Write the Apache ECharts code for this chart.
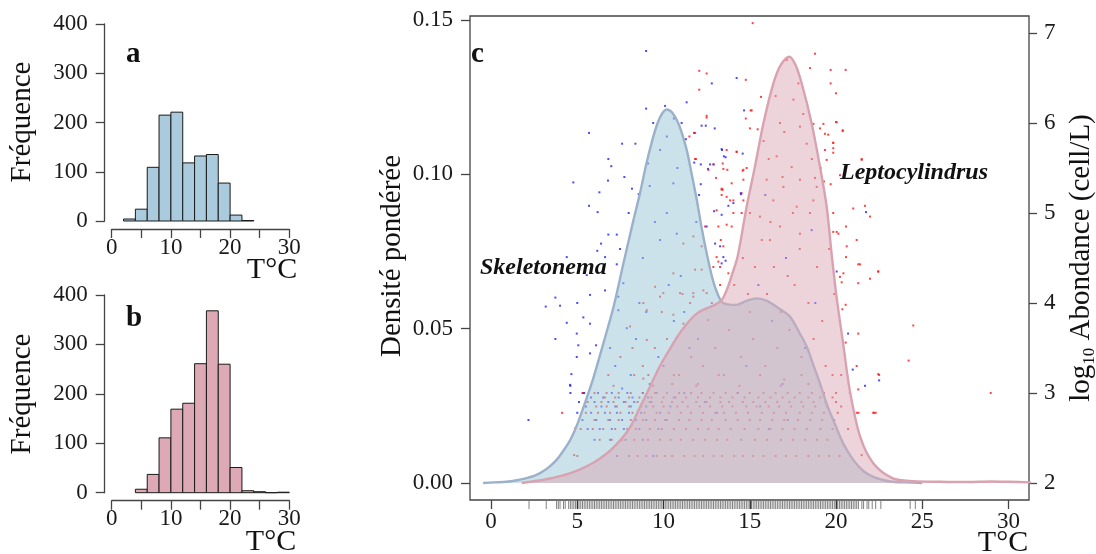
<!DOCTYPE html>
<html><head><meta charset="utf-8">
<script src="https://cdn.jsdelivr.net/npm/echarts@6/dist/echarts.min.js"></script>
<style>html,body{margin:0;padding:0;background:#fff}#c{width:1096px;height:554px}</style>
</head><body><div id="c"></div>
<script>
// ---------- data ----------
const binEdgesA = [2,4,6,8,10,12,14,16,18,20,22,24];
const countsA   = [4,24,109,215,221,118,132,135,77,12,1];
const binEdgesB = [4,6,8,10,12,14,16,18,20,22,24,26,28,30];
const countsB   = [7,37,111,169,181,261,368,260,51,4,2,0,1];
const histTickValues  = [0,5,10,15,20,25,30];
const histLabelValues = [0,10,20,30];
const freqTicks   = [0,100,200,300,400];
const densTicks   = [0,0.05,0.10,0.15];
const abundTicks  = [2,3,4,5,6,7];
const tempTicks   = [0,5,10,15,20,25,30];

const skeletonemaDensity = [[-0.46,0],[0.2,0.0002],[0.9,0.0004],[1.5,0.0009],[2.0,0.0015],[2.5,0.0023],[2.84,0.0032],[3.3,0.0049],[3.8,0.0075],[4.2,0.0105],[4.6,0.014],[5.0,0.019],[5.45,0.026],[5.93,0.034],[6.5,0.045],[7.1,0.057],[7.67,0.071],[8.25,0.085],[8.64,0.094],[9.03,0.104],[9.5,0.114],[9.85,0.119],[10.18,0.121],[10.5,0.120],[10.9,0.116],[11.34,0.108],[11.6,0.101],[11.92,0.092],[12.2,0.083],[12.5,0.0745],[12.9,0.065],[13.37,0.0587],[13.8,0.0578],[14.24,0.0577],[14.8,0.0590],[15.4,0.0598],[16.0,0.0590],[16.7,0.0565],[17.33,0.0539],[17.8,0.0495],[18.3,0.0442],[18.7,0.038],[19.07,0.0323],[19.5,0.025],[19.84,0.0204],[20.4,0.013],[21.0,0.0075],[21.6,0.0038],[22.16,0.002],[22.8,0.0009],[23.3,0.0004],[24.0,0.0002],[25.0,0]];

const leptocylindrusDensity = [[1.78,0],[2.5,0.0006],[3.0,0.001],[4.0,0.0022],[5.0,0.004],[6.0,0.0068],[7.0,0.011],[8.0,0.0175],[8.64,0.0246],[9.2,0.031],[9.8,0.038],[10.57,0.0453],[11.0,0.049],[11.54,0.0528],[12.0,0.0552],[12.5,0.0566],[13.0,0.0578],[13.37,0.0592],[13.7,0.063],[14.0,0.068],[14.3,0.0735],[14.82,0.0895],[15.3,0.1025],[15.79,0.1165],[16.37,0.1295],[16.8,0.1355],[17.29,0.1381],[17.65,0.1355],[18.01,0.1295],[18.59,0.1165],[19.07,0.1025],[19.46,0.0895],[19.75,0.074],[20.04,0.060],[20.42,0.045],[20.8,0.030],[21.4,0.015],[22.16,0.0064],[23.3,0.0015],[24.5,0.0006],[26.0,0.0004],[27.5,0.0003],[29.0,0.0005],[30.0,0.0004],[31.3,0.0002]];

// Skeletonema samples: [T, log10 abundance]
const skeletonemaPoints = [[8.99,6.8],[12.8,6.44],[14.24,6.5],[11.34,6.23],[8.99,6.16],[10.09,6.19],[5.68,5.89],[7.6,5.77],[8.37,5.77],[11.05,6.0],[11.77,5.89],[12.45,5.97],[12.97,5.94],[11.3,5.82],[6.8,5.6],[6.97,5.52],[4.77,5.34],[6.78,5.36],[7.73,5.4],[8.17,5.27],[6.28,5.23],[8.56,5.21],[5.68,5.08],[6.18,5.01],[7.98,5.0],[6.8,4.76],[7.29,4.76],[6.38,4.66],[6.16,4.58],[7.48,4.6],[7.29,4.43],[13.37,5.71],[13.6,5.62],[14.59,5.66],[12.16,5.54],[12.9,5.54],[11.78,5.56],[12.58,5.49],[12.16,5.32],[12.93,5.02],[13.76,5.08],[13.37,4.98],[14.05,5.11],[14.48,5.22],[14.67,6.14],[12.5,4.85],[12.06,5.2],[12.99,4.66],[13.28,4.63],[13.47,4.51],[13.6,4.47],[10.19,5.85],[9.8,5.7],[10.57,5.33],[10.19,5.0],[9.8,4.7],[10.77,4.77],[4.39,4.51],[6.61,4.14],[3.73,4.06],[3.17,3.96],[4.0,3.97],[5.0,4.0],[5.74,4.09],[5.35,3.84],[5.74,3.77],[4.39,3.78],[4.97,3.66],[3.73,3.6],[5.06,3.53],[6.09,3.53],[5.74,3.44],[4.97,3.4],[4.66,3.21],[4.58,3.09],[5.35,3.0],[7.38,3.92],[7.87,3.72],[5.55,4.31],[7.67,4.22],[7.38,4.07],[6.61,4.51],[2.17,2.7],[4.6,3.08],[21.68,3.08],[22.5,3.14],[20.7,3.66],[20.97,3.26],[20.04,4.35],[13.37,4.44],[12.21,5.97],[13.39,5.7],[13.5,5.63],[12.7,5.54],[14.49,5.21],[21.74,5.01],[18.59,4.81],[9.2,5.3],[10.8,5.5],[9.5,4.9],[11.0,4.3],[8.8,4.5],[10.3,4.2],[9.0,3.9],[10.6,3.8],[8.4,3.6],[11.5,3.5],[9.7,3.4],[7.2,3.3],[8.1,3.2],[10.0,3.3],[12.0,3.6],[11.2,3.9],[8.6,4.0],[6.9,3.5],[7.6,3.05],[9.2,3.1],[15.5,4.2],[16.3,3.8],[17.1,4.5],[18.2,3.5],[14.8,3.3],[16.9,3.1],[18.8,4.0],[15.9,5.2],[9.4,6.0],[10.6,6.05],[9.1,5.55],[11.9,4.9],[6.5,2.3],[7.3,2.3],[8.0,2.3],[9.4,2.3],[6.0,2.48],[6.9,2.48],[7.8,2.48],[8.8,2.48],[5.6,2.6],[6.3,2.6],[7.0,2.6],[7.7,2.6],[8.6,2.6],[9.7,2.6],[5.3,2.7],[6.1,2.7],[6.9,2.7],[7.6,2.7],[8.4,2.7],[9.0,2.7],[10.1,2.7],[5.0,2.78],[5.8,2.78],[6.6,2.78],[7.3,2.78],[8.0,2.78],[8.7,2.78],[9.8,2.78],[5.5,2.85],[6.4,2.85],[7.2,2.85],[8.1,2.85],[9.0,2.85],[10.4,2.85],[5.1,2.9],[6.0,2.9],[6.8,2.9],[7.7,2.9],[8.3,2.9],[9.3,2.9],[5.8,2.95],[6.5,2.95],[7.4,2.95],[8.2,2.95],[9.1,2.95],[10.6,2.95],[4.6,3.0],[5.4,3.0],[6.2,3.0],[7.0,3.0],[7.9,3.0],[8.8,3.0],[9.6,3.0],[11.2,3.0],[13.1,2.78],[15.6,2.85],[17.2,2.7],[12.4,2.9],[14.3,3.0],[16.1,2.6]];

// Leptocylindrus samples: [T, log10 abundance]
const leptocylindrusPoints = [[15.17,7.11],[18.78,6.77],[18.49,6.61],[19.69,6.59],[20.56,6.59],[19.69,6.44],[20.0,6.33],[15.65,6.29],[14.77,6.48],[12.5,6.55],[12.07,6.58],[12.07,6.37],[15.05,6.14],[14.77,6.05],[15.01,5.94],[12.5,6.06],[19.07,5.94],[20.0,6.01],[20.39,5.92],[19.55,5.87],[19.84,5.78],[19.84,5.72],[19.84,5.67],[19.36,5.7],[19.46,5.59],[19.11,5.5],[18.78,5.39],[19.3,5.35],[19.69,5.32],[19.36,5.18],[19.84,5.0],[20.23,5.42],[21.49,5.59],[21.0,5.05],[21.97,4.96],[20.58,4.85],[21.2,4.7],[20.14,4.77],[19.84,4.79],[15.01,5.0],[14.63,5.14],[13.86,5.14],[13.43,5.26],[13.04,5.39],[14.63,5.48],[14.05,5.0],[13.95,4.85],[13.32,4.7],[17.14,6.7],[17.82,6.44],[17.53,6.26],[16.75,6.0],[17.91,5.96],[18.3,5.77],[16.56,5.63],[17.43,5.51],[17.91,5.37],[15.98,5.37],[16.95,5.29],[16.37,5.14],[17.72,5.07],[18.49,5.0],[15.59,4.96],[16.75,4.85],[17.91,4.77],[16.17,4.7],[18.88,5.29],[18.69,5.14],[15.46,5.93],[11.5,5.85],[11.83,5.89],[11.88,5.6],[13.43,5.55],[13.7,5.48],[14.24,5.68],[13.37,5.27],[13.37,5.2],[13.95,5.33],[14.63,5.37],[14.53,5.22],[20.23,4.29],[21.29,4.22],[21.97,4.27],[22.45,4.35],[21.39,4.43],[20.56,3.98],[20.37,3.93],[21.29,3.66],[20.56,3.56],[21.2,3.3],[22.45,3.21],[21.29,3.04],[21.2,2.78],[22.16,2.78],[20.33,4.23],[11.83,4.37],[12.21,4.37],[12.5,4.11],[11.54,4.0],[11.15,3.77],[10.57,3.87],[9.99,4.11],[9.51,4.18],[9.03,3.59],[9.12,3.2],[8.83,3.16],[12.89,4.4],[13.18,4.46],[13.28,4.2],[13.76,4.33],[11.73,4.07],[12.6,3.81],[12.5,6.08],[11.83,5.6],[12.6,5.48],[12.9,5.54],[13.47,5.49],[13.66,5.7],[14.24,5.68],[14.59,5.47],[14.82,5.5],[15.11,6.14],[13.37,5.26],[13.66,5.18],[14.05,5.14],[14.53,5.0],[13.08,5.03],[13.18,4.85],[13.66,4.87],[13.47,4.63],[13.08,4.51],[13.28,4.4],[12.41,4.85],[12.21,4.63],[11.73,4.74],[11.15,4.66],[10.57,4.33],[10.96,4.11],[11.73,4.11],[12.31,4.14],[9.8,4.07],[8.83,4.0],[9.03,3.92],[8.06,3.74],[18.69,5.99],[19.27,5.99],[20.04,6.01],[20.39,5.91],[19.36,5.88],[19.84,5.78],[21.49,5.6],[21.68,5.08],[22.45,4.35],[21.29,4.43],[20.58,4.51],[20.62,4.63],[20.04,4.79],[20.43,4.33],[4.12,2.78],[4.89,2.61],[4.82,2.31],[28.97,3.0],[21.3,2.78],[22.3,2.78],[24.48,3.75],[24.21,3.36],[22.5,3.2],[22.2,2.78],[21.49,2.31],[8.8,3.3],[9.5,3.5],[10.2,3.6],[10.9,3.2],[11.6,3.4],[12.3,3.3],[13.0,3.5],[13.8,3.7],[14.5,3.4],[15.2,3.6],[15.9,3.3],[16.6,3.5],[17.3,3.7],[18.0,3.4],[18.7,3.6],[19.4,3.3],[9.9,3.9],[11.1,4.1],[12.8,4.0],[14.1,4.2],[15.0,3.9],[16.0,4.1],[16.8,3.9],[17.6,4.2],[18.4,4.0],[19.2,3.8],[19.9,4.1],[14.6,4.5],[15.7,4.7],[16.4,4.4],[17.9,4.6],[18.9,4.4],[19.6,4.6],[13.5,3.2],[10.5,3.1],[12.0,3.1],[17.0,3.15],[18.4,3.1],[19.8,3.2],[8.2,3.5],[7.5,3.4],[6.8,3.2],[16.2,4.9],[17.5,5.0],[15.3,4.4],[16.1,5.6],[17.0,5.9],[18.1,6.1],[16.5,6.3],[15.8,5.8],[18.6,5.6],[17.2,4.3],[14.9,4.1],[16.9,5.4],[5.0,2.3],[8.5,2.3],[9.0,2.3],[9.6,2.3],[10.1,2.3],[10.5,2.3],[11.2,2.3],[11.8,2.3],[12.3,2.3],[12.9,2.3],[13.4,2.3],[14.1,2.3],[14.6,2.3],[15.2,2.3],[15.8,2.3],[16.5,2.3],[17.1,2.3],[17.7,2.3],[18.4,2.3],[19.0,2.3],[19.6,2.3],[20.2,2.3],[6.3,2.48],[7.0,2.48],[7.6,2.48],[8.3,2.48],[9.1,2.48],[9.8,2.48],[10.4,2.48],[11.0,2.48],[11.7,2.48],[12.4,2.48],[13.1,2.48],[13.7,2.48],[14.5,2.48],[15.3,2.48],[16.0,2.48],[16.8,2.48],[17.5,2.48],[18.2,2.48],[18.9,2.48],[19.5,2.48],[5.2,2.6],[5.9,2.6],[6.5,2.6],[7.2,2.6],[7.9,2.6],[8.4,2.6],[9.2,2.6],[9.9,2.6],[10.6,2.6],[11.3,2.6],[12.0,2.6],[12.6,2.6],[13.2,2.6],[13.9,2.6],[14.7,2.6],[15.5,2.6],[16.2,2.6],[16.9,2.6],[17.6,2.6],[18.3,2.6],[19.1,2.6],[19.8,2.6],[20.7,2.6],[6.0,2.7],[6.8,2.7],[7.4,2.7],[8.1,2.7],[8.8,2.7],[9.5,2.7],[10.2,2.7],[10.9,2.7],[11.5,2.7],[12.2,2.7],[12.8,2.7],[13.6,2.7],[14.3,2.7],[15.0,2.7],[15.6,2.7],[16.3,2.7],[17.0,2.7],[17.8,2.7],[18.5,2.7],[19.2,2.7],[19.9,2.7],[5.5,2.78],[6.2,2.78],[6.9,2.78],[7.5,2.78],[8.2,2.78],[8.9,2.78],[9.6,2.78],[10.3,2.78],[11.0,2.78],[11.6,2.78],[12.3,2.78],[13.0,2.78],[13.5,2.78],[14.2,2.78],[14.9,2.78],[15.7,2.78],[16.4,2.78],[17.1,2.78],[17.9,2.78],[18.6,2.78],[19.3,2.78],[20.1,2.78],[6.1,2.85],[6.7,2.85],[7.3,2.85],[8.0,2.85],[8.7,2.85],[9.4,2.85],[10.0,2.85],[10.8,2.85],[11.4,2.85],[12.1,2.85],[12.7,2.85],[13.4,2.85],[14.0,2.85],[14.8,2.85],[15.4,2.85],[16.1,2.85],[16.7,2.85],[17.4,2.85],[18.1,2.85],[18.8,2.85],[19.5,2.85],[20.3,2.85],[5.6,2.9],[6.4,2.9],[7.1,2.9],[7.8,2.9],[8.5,2.9],[9.2,2.9],[9.9,2.9],[10.5,2.9],[11.1,2.9],[11.9,2.9],[12.5,2.9],[13.3,2.9],[13.8,2.9],[14.6,2.9],[15.2,2.9],[15.9,2.9],[16.6,2.9],[17.3,2.9],[18.0,2.9],[18.7,2.9],[19.4,2.9],[20.0,2.9],[6.6,2.95],[7.2,2.95],[8.0,2.95],[8.6,2.95],[9.3,2.95],[10.0,2.95],[10.7,2.95],[11.3,2.95],[12.0,2.95],[12.7,2.95],[13.3,2.95],[14.0,2.95],[14.7,2.95],[15.5,2.95],[16.2,2.95],[16.9,2.95],[17.6,2.95],[18.4,2.95],[19.1,2.95],[19.8,2.95],[5.3,3.0],[6.0,3.0],[6.7,3.0],[7.4,3.0],[8.1,3.0],[8.8,3.0],[9.5,3.0],[10.2,3.0],[10.9,3.0],[11.6,3.0],[12.2,3.0],[12.9,3.0],[13.6,3.0],[14.3,3.0],[15.0,3.0],[15.8,3.0],[16.5,3.0],[17.2,3.0],[17.9,3.0],[18.6,3.0],[19.3,3.0],[20.0,3.0],[20.8,3.0],[7.1,3.08],[9.4,3.08],[11.9,3.08],[14.4,3.08],[16.8,3.08],[19.1,3.08],[8.3,3.2],[10.6,3.2],[13.2,3.2],[15.6,3.2],[18.0,3.2],[20.3,3.2]];

// sampled temperatures (rug)
const rugTemps = [2.2,3.2,3.8,3.9,4.0,4.2,4.3,4.5,4.6,4.7,4.8,4.9,5.0,5.1,5.2,5.3,5.4,5.5,5.6,5.7,5.8,5.9,6.0,6.1,6.2,6.3,6.4,6.5,6.6,6.7,6.8,6.9,7.0,7.1,7.2,7.3,7.4,7.5,7.6,7.7,7.8,7.9,8.0,8.1,8.2,8.3,8.4,8.5,8.6,8.7,8.8,8.9,9.0,9.1,9.2,9.3,9.4,9.5,9.6,9.7,9.8,9.9,10.0,10.1,10.2,10.3,10.4,10.5,10.6,10.7,10.8,10.9,11.0,11.1,11.2,11.3,11.4,11.5,11.6,11.7,11.8,11.9,12.0,12.1,12.2,12.3,12.4,12.5,12.6,12.7,12.8,12.9,13.0,13.1,13.2,13.3,13.4,13.5,13.6,13.7,13.8,13.9,14.0,14.1,14.2,14.3,14.4,14.5,14.6,14.7,14.8,14.9,15.0,15.1,15.2,15.3,15.4,15.5,15.6,15.7,15.8,15.9,16.0,16.1,16.2,16.3,16.4,16.5,16.6,16.7,16.8,16.9,17.0,17.1,17.2,17.3,17.4,17.5,17.6,17.7,17.8,17.9,18.0,18.1,18.2,18.3,18.4,18.5,18.6,18.7,18.8,18.9,19.0,19.1,19.2,19.3,19.4,19.5,19.6,19.7,19.8,19.9,20.0,20.1,20.2,20.3,20.4,20.5,20.6,20.7,20.8,20.9,21.0,21.1,21.2,21.3,21.5,21.6,21.8,21.9,22.1,22.3,22.6,24.3,24.6];

// ---------- chart ----------
const F = '"Liberation Serif", "DejaVu Serif", serif';
const INK = '#1a1a1a';
const AX = '#444';
const chart = echarts.init(document.getElementById('c'), null, {renderer:'canvas'});

function histData(edges, counts){ return counts.map((c,i)=>[edges[i], edges[i+1], c]); }
function histRender(fill){
  return function(params, api){
    const p0 = api.coord([api.value(0), 0]);
    const p1 = api.coord([api.value(1), api.value(2)]);
    return {type:'rect', shape:{x:p0[0], y:p1[1], width:p1[0]-p0[0], height:p0[1]-p1[1]},
      style:{fill:fill, stroke:'#1a1a1a', lineWidth:1}};
  };
}
const lbl = (extra)=>Object.assign({fontFamily:F, fontSize:23, color:INK}, extra||{});

function histX(gi){
  return {gridIndex:gi, type:'value', min:0, max:30, offset:8,
    axisLine:{show:true, onZero:false, lineStyle:{color:AX, width:1.3}},
    axisTick:{show:true, length:9, customValues:histTickValues, lineStyle:{color:AX, width:1.3}},
    axisLabel:lbl({customValues:histLabelValues, margin:7}),
    splitLine:{show:false}};
}
function histY(gi){
  return {gridIndex:gi, type:'value', min:0, max:400, offset:7,
    axisLine:{show:true, onZero:false, lineStyle:{color:AX, width:1.3}},
    axisTick:{show:true, length:9, customValues:freqTicks, lineStyle:{color:AX, width:1.3}},
    axisLabel:lbl({customValues:freqTicks, margin:17}),
    splitLine:{show:false}};
}

const option = {
  animation:false,
  backgroundColor:'#fff',
  textStyle:{fontFamily:F},
  grid:[
    {left:111.7, right:1096-289.3, top:24, bottom:554-221},
    {left:111.7, right:1096-289.3, top:295, bottom:554-492.7},
    {left:470, right:67, top:16, bottom:54, show:true, borderColor:AX, borderWidth:1.3, backgroundColor:'transparent'},
    {left:470, right:67, top:501, height:8}
  ],
  xAxis:[
    histX(0), histX(1),
    {gridIndex:2, type:'value', min:-1.22, max:31.19,
      axisLine:{show:false, onZero:false},
      axisTick:{show:true, length:9, customValues:tempTicks, lineStyle:{color:AX, width:1.3}},
      axisLabel:lbl({customValues:tempTicks, margin:10}),
      splitLine:{show:false}},
    {gridIndex:3, type:'value', min:-1.22, max:31.19, show:false, axisLine:{onZero:false}}
  ],
  yAxis:[
    histY(0), histY(1),
    {gridIndex:2, type:'value', position:'left', min:-0.00551, max:0.1513,
      axisLine:{show:false, onZero:false},
      axisTick:{show:true, length:9, customValues:densTicks, lineStyle:{color:AX, width:1.3}},
      axisLabel:lbl({customValues:densTicks, margin:17, formatter:v=>v.toFixed(2)}),
      splitLine:{show:false}},
    {gridIndex:2, type:'value', position:'right', min:1.811, max:7.189,
      axisLine:{show:false, onZero:false},
      axisTick:{show:true, length:8, customValues:abundTicks, lineStyle:{color:AX, width:1.3}},
      axisLabel:lbl({customValues:abundTicks, margin:15}),
      splitLine:{show:false}},
    {gridIndex:3, type:'value', min:0, max:1, show:false, axisLine:{onZero:false}}
  ],
  series:[
    {type:'custom', xAxisIndex:0, yAxisIndex:0, data:histData(binEdgesA,countsA), encode:{x:[0,1], y:2}, renderItem:histRender('#a9cbdd')},
    {type:'custom', xAxisIndex:1, yAxisIndex:1, data:histData(binEdgesB,countsB), encode:{x:[0,1], y:2}, renderItem:histRender('#dca9b4')},
    {type:'scatter', xAxisIndex:2, yAxisIndex:3, data:skeletonemaPoints, symbol:'rect', symbolSize:2, itemStyle:{color:'#1f1fff'}, z:1, silent:true},
    {type:'scatter', xAxisIndex:2, yAxisIndex:3, data:leptocylindrusPoints, symbol:'rect', symbolSize:2, itemStyle:{color:'#ff1414'}, z:1, silent:true},
    {type:'line', xAxisIndex:2, yAxisIndex:2, data:skeletonemaDensity, showSymbol:false, smooth:0.3,
      lineStyle:{color:'#9bb1c9', width:2.4}, areaStyle:{color:'rgba(158,200,216,0.76)', origin:0}, z:2, silent:true},
    {type:'line', xAxisIndex:2, yAxisIndex:2, data:leptocylindrusDensity, showSymbol:false, smooth:0.3,
      lineStyle:{color:'#d9a2b0', width:2.4}, areaStyle:{color:'rgba(220,168,181,0.72)', origin:0}, z:3, silent:true},
    {type:'scatter', xAxisIndex:3, yAxisIndex:4, data:rugTemps.map(t=>[t,0.5]), symbol:'rect', symbolSize:[1,8], itemStyle:{color:'rgba(30,30,30,0.7)'}, silent:true}
  ],
  graphic:[
    {type:'text', x:126, y:55, style:{text:'a', fontFamily:F, fontSize:29, fontWeight:'bold', fill:'#111', align:'left', verticalAlign:'middle'}},
    {type:'text', x:126, y:319, style:{text:'b', fontFamily:F, fontSize:29, fontWeight:'bold', fill:'#111', align:'left', verticalAlign:'middle'}},
    {type:'text', x:471, y:55, style:{text:'c', fontFamily:F, fontSize:29, fontWeight:'bold', fill:'#111', align:'left', verticalAlign:'middle'}},
    {type:'text', x:22, y:122, rotation:Math.PI/2, style:{text:'Fréquence', fontFamily:F, fontSize:29, fill:'#111', align:'center', verticalAlign:'middle'}},
    {type:'text', x:22, y:394, rotation:Math.PI/2, style:{text:'Fréquence', fontFamily:F, fontSize:29, fill:'#111', align:'center', verticalAlign:'middle'}},
    {type:'text', x:272, y:270, style:{text:'T°C', fontFamily:F, fontSize:30, fill:'#111', align:'center', verticalAlign:'middle'}},
    {type:'text', x:271, y:542, style:{text:'T°C', fontFamily:F, fontSize:30, fill:'#111', align:'center', verticalAlign:'middle'}},
    {type:'text', x:1003, y:543, style:{text:'T°C', fontFamily:F, fontSize:30, fill:'#111', align:'center', verticalAlign:'middle'}},
    {type:'text', x:392, y:256, rotation:Math.PI/2, style:{text:'Densité pondérée', fontFamily:F, fontSize:29, fill:'#111', align:'center', verticalAlign:'middle'}},
    {type:'text', x:1081, y:258, rotation:Math.PI/2, style:{text:'{a|log}{s|10}{a| Abondance (cell/L)}', align:'center', verticalAlign:'middle', fill:'#111',
      rich:{a:{fontFamily:F, fontSize:29, lineHeight:34, fill:'#111'}, s:{fontFamily:F, fontSize:17, fill:'#111', verticalAlign:'bottom'}}}},
    {type:'text', x:480, y:268, style:{text:'Skeletonema', fontFamily:F, fontSize:24, fontWeight:'bold', fontStyle:'italic', fill:'#111', align:'left', verticalAlign:'middle'}},
    {type:'text', x:840, y:173, style:{text:'Leptocylindrus', fontFamily:F, fontSize:24, fontWeight:'bold', fontStyle:'italic', fill:'#111', align:'left', verticalAlign:'middle'}}
  ]
};
chart.setOption(option);
</script>
</body></html>
